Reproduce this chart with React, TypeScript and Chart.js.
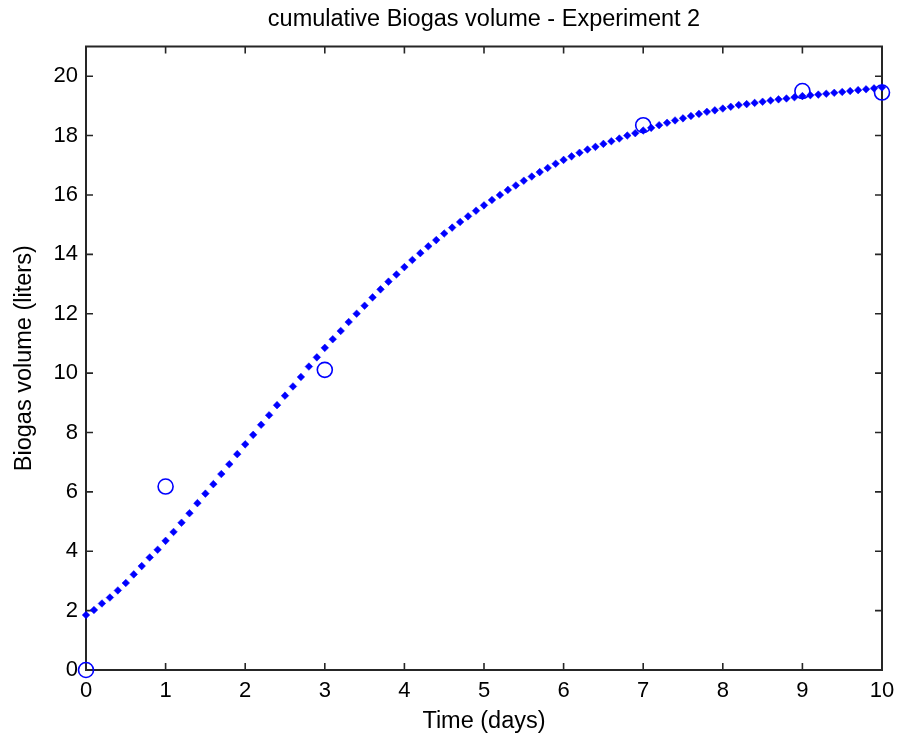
import React, { useEffect, useRef } from "react";
import { Chart, registerables } from "chart.js";

Chart.register(...registerables);

const titleText = "cumulative Biogas volume - Experiment 2";
const xTitle = "Time (days)";
const yTitle = "Biogas volume (liters)";

// measured samples
const measuredDays = [0, 1, 3, 7, 9, 10];
const measuredVolume = [0, 6.18, 10.11, 18.35, 19.5, 19.45];

// fitted curve samples
const curveDays = [
  0.0, 0.1, 0.2, 0.3, 0.4, 0.5, 0.6, 0.7, 0.8, 0.9,
  1.0, 1.1, 1.2, 1.3, 1.4, 1.5, 1.6, 1.7, 1.8, 1.9,
  2.0, 2.1, 2.2, 2.3, 2.4, 2.5, 2.6, 2.7, 2.8, 2.9,
  3.0, 3.1, 3.2, 3.3, 3.4, 3.5, 3.6, 3.7, 3.8, 3.9,
  4.0, 4.1, 4.2, 4.3, 4.4, 4.5, 4.6, 4.7, 4.8, 4.9,
  5.0, 5.1, 5.2, 5.3, 5.4, 5.5, 5.6, 5.7, 5.8, 5.9,
  6.0, 6.1, 6.2, 6.3, 6.4, 6.5, 6.6, 6.7, 6.8, 6.9,
  7.0, 7.1, 7.2, 7.3, 7.4, 7.5, 7.6, 7.7, 7.8, 7.9,
  8.0, 8.1, 8.2, 8.3, 8.4, 8.5, 8.6, 8.7, 8.8, 8.9,
  9.0, 9.1, 9.2, 9.3, 9.4, 9.5, 9.6, 9.7, 9.8, 9.9,
  10.0,
];
const curveVolume = [
  1.85, 2.02, 2.24, 2.44, 2.68, 2.93, 3.22, 3.5, 3.79, 4.05,
  4.35, 4.65, 4.96, 5.28, 5.62, 5.94, 6.26, 6.6, 6.93, 7.27,
  7.6, 7.92, 8.26, 8.58, 8.92, 9.24, 9.55, 9.87, 10.22, 10.53,
  10.85, 11.14, 11.42, 11.72, 12.0, 12.27, 12.55, 12.82, 13.08, 13.32,
  13.57, 13.81, 14.04, 14.27, 14.48, 14.7, 14.9, 15.09, 15.28, 15.47,
  15.65, 15.83, 16.0, 16.17, 16.32, 16.48, 16.62, 16.77, 16.91, 17.05,
  17.18, 17.3, 17.42, 17.53, 17.62, 17.72, 17.81, 17.9, 18.0, 18.08,
  18.17, 18.26, 18.35, 18.43, 18.51, 18.58, 18.66, 18.73, 18.8, 18.85,
  18.91, 18.97, 19.03, 19.06, 19.1, 19.14, 19.18, 19.22, 19.25, 19.29,
  19.33, 19.36, 19.38, 19.41, 19.44, 19.47, 19.5, 19.53, 19.56, 19.59,
  19.62,
];

const xTicks = [0, 1, 2, 3, 4, 5, 6, 7, 8, 9, 10];
const yTicks = [0, 2, 4, 6, 8, 10, 12, 14, 16, 18, 20];

const FONT = "'Liberation Sans', Arial, sans-serif";
const AXIS_COLOR = "#262626";
const BLUE = "#0000ff";

const boxPlugin = {
  id: "matlabBox",
  beforeDatasetsDraw(chart: any) {
    const { ctx, chartArea } = chart;
    const { left, right, top, bottom } = chartArea;
    const xs = chart.scales.x;
    const ys = chart.scales.y;
    const tl = 7;
    ctx.save();
    ctx.strokeStyle = AXIS_COLOR;
    ctx.lineWidth = 1.6;
    ctx.beginPath();
    for (const v of xTicks) {
      const px = xs.getPixelForValue(v);
      ctx.moveTo(px, bottom);
      ctx.lineTo(px, bottom - tl);
      ctx.moveTo(px, top);
      ctx.lineTo(px, top + tl);
    }
    for (const v of yTicks) {
      const py = ys.getPixelForValue(v);
      ctx.moveTo(left, py);
      ctx.lineTo(left + tl, py);
      ctx.moveTo(right, py);
      ctx.lineTo(right - tl, py);
    }
    ctx.stroke();
    ctx.lineWidth = 2;
    ctx.strokeRect(left, top, right - left, bottom - top);
    ctx.restore();
  },
  afterDraw(chart: any) {
    // title centred over the axes box, MATLAB style
    const { ctx, chartArea } = chart;
    ctx.save();
    ctx.fillStyle = "#000";
    ctx.font = `normal 23.5px ${FONT}`;
    ctx.textAlign = "center";
    ctx.textBaseline = "middle";
    ctx.fillText(titleText, (chartArea.left + chartArea.right) / 2, 19.5);
    ctx.restore();
  },
};

export default function App() {
  const ref = useRef<HTMLCanvasElement | null>(null);

  useEffect(() => {
    if (!ref.current) return;
    const chart = new Chart(ref.current, {
      type: "scatter",
      data: {
        datasets: [
          {
            label: "fit",
            data: curveDays.map((d, i) => ({ x: d, y: curveVolume[i] })),
            pointStyle: "rectRot",
            pointRadius: 3.8,
            backgroundColor: BLUE,
            borderColor: BLUE,
            borderWidth: 0.5,
            showLine: false,
            order: 0,
            clip: false as any,
          },
          {
            label: "measured",
            data: measuredDays.map((d, i) => ({ x: d, y: measuredVolume[i] })),
            pointStyle: "circle",
            pointRadius: 7.5,
            backgroundColor: "rgba(0,0,0,0)",
            borderColor: BLUE,
            borderWidth: 1.6,
            showLine: false,
            order: 1,
            clip: false as any,
          },
        ],
      },
      options: {
        responsive: false,
        animation: false,
        events: [],
        layout: { padding: { left: 0, right: 16, top: 46.5, bottom: 0 } },
        plugins: {
          legend: { display: false },
          tooltip: { enabled: false },
          title: { display: false },
        },
        scales: {
          x: {
            type: "linear",
            min: 0,
            max: 10,
            grid: { display: false, drawTicks: false },
            border: { display: false },
            afterBuildTicks: (s: any) => {
              s.ticks = xTicks.map((v) => ({ value: v }));
            },
            afterFit: (s: any) => {
              s.height = 70;
              s.paddingLeft = 0;
              s.paddingRight = 0;
            },
            ticks: {
              color: "#000",
              font: { family: FONT, size: 22 },
              padding: 8,
              maxRotation: 0,
              autoSkip: false,
            },
            title: {
              display: true,
              text: xTitle,
              color: "#000",
              font: { family: FONT, size: 23.5 },
              padding: { top: 0, bottom: 4 },
            },
          },
          y: {
            type: "linear",
            min: 0,
            max: 21,
            grid: { display: false, drawTicks: false },
            border: { display: false },
            afterBuildTicks: (s: any) => {
              s.ticks = yTicks.map((v) => ({ value: v }));
            },
            afterFit: (s: any) => {
              s.width = 86;
              s.paddingTop = 0;
              s.paddingBottom = 0;
            },
            ticks: {
              color: "#000",
              font: { family: FONT, size: 22 },
              padding: 8,
              autoSkip: false,
            },
            title: {
              display: true,
              text: yTitle,
              color: "#000",
              font: { family: FONT, size: 23.5 },
              padding: { top: 10, bottom: 0 },
            },
          },
        },
      },
      plugins: [boxPlugin],
    });
    return () => chart.destroy();
  }, []);

  return (
    <canvas
      ref={ref}
      width={898}
      height={740}
      style={{ position: "absolute", left: 0, top: 0, display: "block", background: "#fff" }}
    />
  );
}
